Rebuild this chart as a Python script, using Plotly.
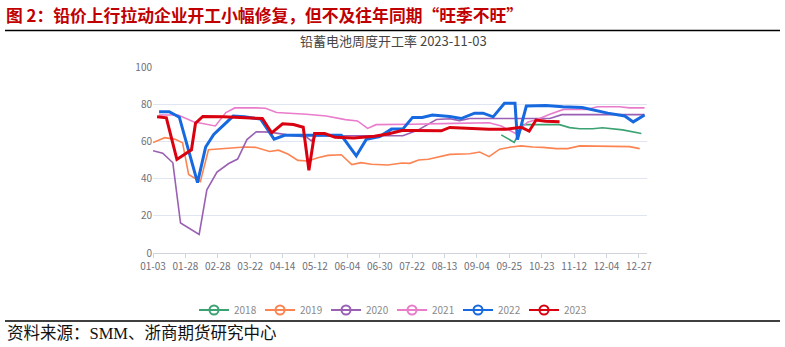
import plotly.graph_objects as go

# ---- axis tick labels (category axis of the original, 8 sub-steps per label) ----
tick_labels = ["01-03", "01-28", "02-28", "03-22", "04-14", "05-12", "06-04", "06-30",
               "07-22", "08-13", "09-04", "09-25", "10-23", "11-12", "12-04", "12-27"]
tick_pos = [i * 8 for i in range(len(tick_labels))]

# ---- series: position on the category axis, operating rate (%) ----
pos_2018 = [86, 89.2, 91.5, 100.4, 102.9, 105.4, 108.6, 111, 116, 120.6]
rate_2018 = [63.5, 59.5, 69, 69, 67.4, 66.8, 66.8, 67.3, 66.2, 64.2]

pos_2019 = [0, 2.9, 5.5, 7.3, 8.8, 11.7, 13.7, 17.7, 22.6, 25.3, 28.8, 31, 33.3, 35.8, 38.3,
            40.7, 43.2, 46.5, 49.1, 51.4, 53.9, 58, 61.5, 63.4, 65.6, 68, 70.8, 73.3, 78.2,
            80.7, 83, 85.6, 88.5, 90.9, 93.8, 96.3, 99.6, 102.4, 105.4, 110.3, 117.7, 120.2]
rate_2019 = [59.4, 62, 61.1, 59.3, 42.2, 38.4, 55.5, 56.2, 57, 56.8, 54.6, 55.3, 53.2, 49.8, 49.5,
             51.2, 52.5, 52.8, 47.5, 48.6, 47.7, 47.3, 48.4, 48.2, 50, 50.4, 51.8, 53, 53.4,
             54.3, 51.8, 55.8, 57, 57.6, 57, 56.8, 56.1, 56.1, 57.6, 57.6, 57.2, 56.1]

pos_2020 = [0, 2.4, 4.9, 6.8, 11.4, 13.3, 15.8, 18.7, 20.9, 23.2, 25.5, 28.8, 32.1, 34.6, 37.9,
            39.1, 40.3, 61.7, 65.2, 67.5, 70, 73.3, 75.7, 78.2, 98, 101, 121.4]
rate_2020 = [55, 53.7, 48.5, 16.1, 10, 34, 43.5, 48.1, 50.5, 61, 65.2, 65, 63.9, 63, 62.4,
             60.3, 63, 63, 65.8, 68.8, 71.8, 72.2, 71.2, 72.3, 72.3, 74.4, 74.4]

pos_2021 = [1.5, 6.2, 10, 15.4, 18, 20.2, 25.3, 27.8, 30.5, 34, 37.9, 42.8, 47.5, 50.5, 53, 55.1,
            58, 63.8, 74.5, 83, 86, 89.6, 92.5, 95.2, 98, 101.4, 107, 109.8, 115.2, 117.7, 121.4]
rate_2021 = [74.2, 74.2, 70.6, 68.3, 75.5, 78, 78, 77.8, 75.5, 75.2, 74.6, 73.7, 71.7, 71, 67, 69,
             69, 69.2, 69.7, 70, 68.3, 64.2, 70.3, 72, 74.6, 77.2, 77.2, 78.6, 78.6, 78, 78]

pos_2022 = [1.5, 4, 6.5, 11, 13, 15, 19.8, 22.6, 26.6, 29.9, 32.5, 46.5, 50.2, 52.7, 56, 58.9,
            61.7, 64.1, 66.5, 69, 73.3, 76.1, 79.4, 81.5, 84, 86.8, 89.4, 90, 92.2, 97, 101.2,
            106, 112.3, 116.5, 118.6, 121.4]
rate_2022 = [76, 76, 73, 37.8, 57, 63.7, 73.6, 73.2, 72, 61.2, 63.3, 63.3, 52.2, 61.2, 62.6, 66.6,
             66.6, 72.9, 72.9, 74.2, 73.4, 72.3, 75.2, 75.2, 73.2, 80.5, 80.5, 61, 79, 79.3, 78.6,
             78.2, 75.2, 73.7, 70.5, 74.2]

pos_2023 = [1, 3.3, 5.9, 9.5, 10.5, 12.3, 17.5, 25, 27, 29.3, 32, 34.7, 37.1, 38.5, 39.9, 42.4,
            45, 49.6, 54.7, 58, 61.5, 64.4, 71.2, 73.3, 78.2, 83, 87.2, 90.9, 92.9, 94.6, 97, 100.4]
rate_2023 = [73.2, 72.7, 50.3, 55.5, 69.8, 73.4, 73.2, 72.3, 72.3, 64.6, 69.5, 69.1, 67.6, 44.5,
             64.2, 64.2, 62.2, 61.8, 62.8, 64, 65.8, 65.8, 65.7, 67.5, 67, 66.5, 66.5, 67.6, 65.5,
             71.5, 70.9, 70.5]

series = [
    ("2018", pos_2018, rate_2018, "#3ba272", 1.6),
    ("2019", pos_2019, rate_2019, "#fc8452", 1.6),
    ("2020", pos_2020, rate_2020, "#9a60b4", 1.6),
    ("2021", pos_2021, rate_2021, "#ea7ccc", 1.6),
    ("2022", pos_2022, rate_2022, "#1769e0", 3),
    ("2023", pos_2023, rate_2023, "#d9000f", 3),
]

W, H = 785, 347
L, R, T, B = 153, 138, 67, 94
PW, PH = W - L - R, H - T - B


def px(x):
    return (x - L) / PW


def py(y):
    return (H - B - y) / PH


fig = go.Figure()
for name, xs, ys, color, width in series:
    fig.add_trace(go.Scatter(x=xs, y=ys, mode="lines", name=name, showlegend=False,
                             line=dict(color=color, width=width), hoverinfo="skip"))
    # legend entry in the ECharts style (line with hollow circle)
    fig.add_trace(go.Scatter(x=[None], y=[None], mode="lines+markers", name=name,
                             line=dict(color=color, width=2),
                             marker=dict(symbol="circle-open", size=9, color=color,
                                         line=dict(width=2, color=color))))

fig.update_layout(
    width=W, height=H,
    margin=dict(l=L, r=R, t=T, b=B),
    paper_bgcolor="white", plot_bgcolor="white",
    font=dict(family="Noto Sans CJK SC, Noto Sans, sans-serif", color="#6e7079", size=10),
    showlegend=True,
    legend=dict(orientation="h", x=px(392), xanchor="center", y=py(310), yanchor="middle",
                font=dict(size=10, color="#8a8a8a"), itemwidth=30, entrywidth=21,
                bgcolor="rgba(0,0,0,0)"),
    xaxis=dict(range=[0, 122], tickmode="array", tickvals=tick_pos, ticktext=tick_labels,
               showgrid=False, zeroline=False, showline=True, linecolor="#d0d4dc", linewidth=1,
               ticks="outside", ticklen=4, tickcolor="#d0d4dc",
               tickfont=dict(size=10, color="#6e7079")),
    yaxis=dict(range=[0, 100], dtick=20, showgrid=True, gridcolor="#e0e6f1", gridwidth=1,
               zeroline=False, showline=False, ticks="", ticklen=6,
               tickfont=dict(size=10, color="#6e7079")),
    annotations=[
        dict(text="<b>图 2：铅价上行拉动企业开工小幅修复，但不及往年同期“旺季不旺”</b>",
             xref="paper", yref="paper", x=px(4), y=py(15), xanchor="left", yanchor="middle",
             showarrow=False, font=dict(size=16.8, color="#c00000", family="Noto Sans CJK SC"),
             ),
        dict(text="铅蓄电池周度开工率 2023-11-03", xref="paper", yref="paper",
             x=px(393), y=py(41), xanchor="center", yanchor="middle", showarrow=False,
             font=dict(size=13, color="#464646")),
        dict(text="资料来源：SMM、浙商期货研究中心", xref="paper", yref="paper",
             x=px(5), y=py(333), xanchor="left", yanchor="middle", showarrow=False,
             font=dict(size=16.5, color="#111111",
                       family="Liberation Serif, Noto Sans CJK SC, serif")),
    ],
    shapes=[
        dict(type="line", xref="paper", yref="paper", x0=px(5), x1=px(780), y0=py(30.5),
             y1=py(30.5), line=dict(color="#000000", width=1.5)),
        dict(type="line", xref="paper", yref="paper", x0=px(5), x1=px(780), y0=py(321),
             y1=py(321), line=dict(color="#000000", width=1.5)),
    ],
)

fig.write_html("out.html")
